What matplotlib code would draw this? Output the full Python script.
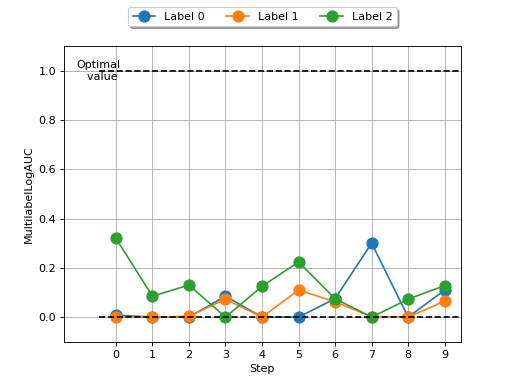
import matplotlib
matplotlib.use("Agg")
import matplotlib.pyplot as plt
import numpy as np

steps = list(range(10))
label0 = [0.008, 0.0, 0.0, 0.085, 0.0, 0.0, 0.075, 0.30, 0.0, 0.11]
label1 = [0.0, 0.0, 0.003, 0.073, 0.0, 0.11, 0.062, 0.002, 0.0, 0.065]
label2 = [0.32, 0.085, 0.13, 0.0, 0.125, 0.224, 0.075, 0.0, 0.073, 0.128]
series = {"Label 0": label0, "Label 1": label1, "Label 2": label2}
optimal = 1.0
worst = 0.0

fig, ax = plt.subplots(figsize=(6.4, 4.8), dpi=80)
for name, vals in series.items():
    ax.plot(steps, vals, marker="o", markersize=10, label=name)

ax.hlines(optimal, -0.45, 9.6, colors="black", linestyles="--")
ax.hlines(worst, -0.45, 9.6, colors="black", linestyles="--")
ax.text(-0.47, optimal, "Optimal\n  value", ha="center", va="center", fontsize=10)

ax.set_xlim(-1.42, 9.44)
ax.set_ylim(-0.1, 1.1)
ax.set_xticks(steps)
ax.grid(True)
ax.set_xlabel("Step")
ax.set_ylabel("MultilabelLogAUC")
ax.legend(loc="upper center", bbox_to_anchor=(0.5, 1.15), ncol=3, shadow=True)
fig.savefig("out.png")
